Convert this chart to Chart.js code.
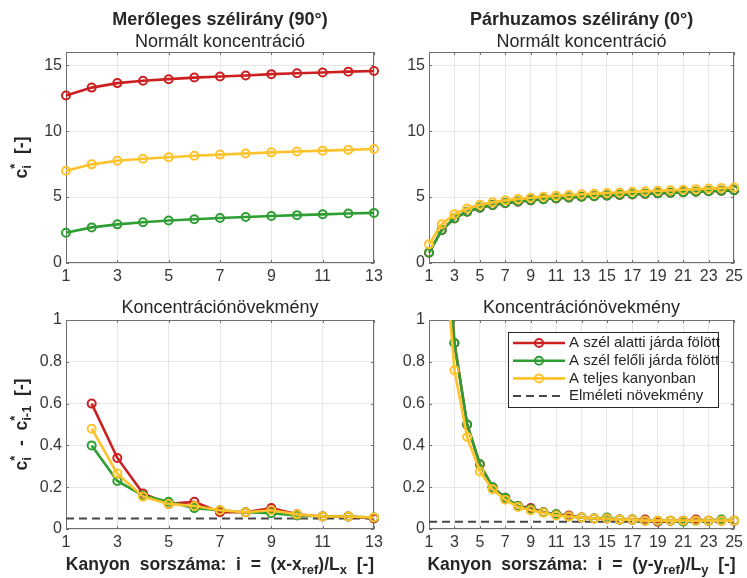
<!DOCTYPE html>
<html>
<head>
<meta charset="utf-8">
<script src="https://cdn.jsdelivr.net/npm/chart.js@4"></script>
<style>
  body { margin: 0; background: #fff; }
  #wrap { position: relative; width: 747px; height: 578px; }
  canvas { position: absolute; }
</style>
</head>
<body>
<div id="wrap">
  <canvas id="c1" width="390" height="290" style="left:0;top:0"></canvas>
  <canvas id="c2" width="357" height="290" style="left:390px;top:0"></canvas>
  <canvas id="c3" width="390" height="288" style="left:0;top:290px"></canvas>
  <canvas id="c4" width="357" height="288" style="left:390px;top:290px"></canvas>
</div>
<script>
// canyon index
const xs13 = [1, 2, 3, 4, 5, 6, 7, 8, 9, 10, 11, 12, 13];
const xs25 = [1, 2, 3, 4, 5, 6, 7, 8, 9, 10, 11, 12, 13, 14, 15, 16, 17, 18, 19, 20, 21, 22, 23, 24, 25];
const inc13 = xs13.slice(1);
const inc25 = xs25.slice(1);

// perpendicular wind (90°), normalised concentration
const perpRed = [12.7, 13.3, 13.64, 13.82, 13.94, 14.06, 14.14, 14.22, 14.32, 14.39, 14.45, 14.51, 14.56];
const perpGreen = [2.3, 2.7, 2.93, 3.09, 3.22, 3.32, 3.41, 3.49, 3.56, 3.63, 3.69, 3.75, 3.8];
const perpYellow = [7.0, 7.48, 7.75, 7.9, 8.02, 8.13, 8.22, 8.3, 8.39, 8.46, 8.52, 8.58, 8.64];

// parallel wind (0°), normalised concentration
const parRed = [0.78, 2.49, 3.38, 3.88, 4.19, 4.39, 4.54, 4.65, 4.75, 4.83, 4.9, 4.96, 5.02, 5.07, 5.11, 5.16, 5.2, 5.24, 5.28, 5.32, 5.36, 5.4, 5.44, 5.47, 5.51];
const parGreen = [0.78, 2.5, 3.39, 3.89, 4.2, 4.4, 4.55, 4.66, 4.76, 4.84, 4.91, 4.97, 5.02, 5.07, 5.12, 5.17, 5.21, 5.25, 5.29, 5.33, 5.36, 5.4, 5.44, 5.48, 5.52];
const parYellow = [1.42, 2.94, 3.7, 4.14, 4.42, 4.61, 4.75, 4.86, 4.95, 5.03, 5.1, 5.16, 5.21, 5.26, 5.31, 5.35, 5.4, 5.44, 5.48, 5.52, 5.56, 5.6, 5.64, 5.68, 5.72];

// increments c*_i - c*_(i-1)
const perpIncRed = [0.6, 0.34, 0.17, 0.12, 0.13, 0.08, 0.08, 0.1, 0.07, 0.06, 0.06, 0.05];
const perpIncGreen = [0.4, 0.23, 0.16, 0.13, 0.1, 0.09, 0.08, 0.075, 0.065, 0.06, 0.06, 0.055];
const perpIncYellow = [0.48, 0.265, 0.155, 0.12, 0.11, 0.09, 0.08, 0.09, 0.07, 0.06, 0.06, 0.055];
const parIncRed = [1.71, 0.89, 0.5, 0.31, 0.2, 0.15, 0.11, 0.1, 0.08, 0.07, 0.065, 0.055, 0.05, 0.05, 0.045, 0.045, 0.045, 0.035, 0.04, 0.04, 0.045, 0.04, 0.04, 0.04];
const parIncGreen = [1.72, 0.89, 0.5, 0.31, 0.2, 0.15, 0.11, 0.095, 0.08, 0.07, 0.06, 0.055, 0.05, 0.055, 0.045, 0.045, 0.04, 0.04, 0.04, 0.035, 0.04, 0.04, 0.045, 0.04];
const parIncYellow = [1.52, 0.76, 0.44, 0.275, 0.19, 0.14, 0.105, 0.09, 0.078, 0.065, 0.06, 0.055, 0.05, 0.05, 0.045, 0.045, 0.04, 0.04, 0.04, 0.04, 0.04, 0.04, 0.04, 0.04];
const perpTheory = 0.05;
const parTheory = 0.035;

const labels = ["A szél alatti járda fölött", "A szél felőli járda fölött", "A teljes kanyonban", "Elméleti növekmény"];

const ticksC = [0, 5, 10, 15];
const ticksInc = [0, 0.2, 0.4, 0.6, 0.8, 1];
const ticks13 = [1, 3, 5, 7, 9, 11, 13];
const ticks25 = [1, 3, 5, 7, 9, 11, 13, 15, 17, 19, 21, 23, 25];

const RED = "#cc1f1f";
const GREEN = "#2e9e33";
const YELLOW = "#ffc22a";
const DASH = "#474747";
const TXT = "#262626";
const FONT = "'Liberation Sans', Arial, sans-serif";

Chart.defaults.font.family = FONT;

function series(xs, ys, color, order, clip) {
  return {
    data: ys.map((v, i) => ({ x: xs[i], y: v })),
    borderColor: color,
    pointBorderColor: color,
    pointBackgroundColor: "rgba(255,255,255,0)",
    borderWidth: 2.6,
    pointRadius: 4,
    pointBorderWidth: 2,
    order: order,
    clip: clip,
  };
}

function theory(xMax, val) {
  return {
    data: [{ x: 1, y: val }, { x: xMax, y: val }],
    borderColor: DASH,
    borderWidth: 2,
    borderDash: [8, 5],
    pointRadius: 0,
    order: 10,
  };
}

function drawRich(ctx, parts, cx, cy, size) {
  const big = "bold " + size + "px " + FONT;
  const small = "bold " + Math.round(size * 0.72) + "px " + FONT;
  let w = 0;
  const items = parts.map((p) => {
    let pw;
    if (typeof p === "string") {
      ctx.font = big;
      pw = ctx.measureText(p).width;
    } else {
      ctx.font = small;
      pw = Math.max(ctx.measureText(p.sup || "").width, ctx.measureText(p.sub || "").width);
    }
    w += pw;
    return { p, pw };
  });
  let x = cx - w / 2;
  ctx.textAlign = "left";
  ctx.textBaseline = "middle";
  items.forEach(({ p, pw }) => {
    if (typeof p === "string") {
      ctx.font = big;
      ctx.fillText(p, x, cy);
    } else {
      ctx.font = small;
      if (p.sup) ctx.fillText(p.sup, x, cy - size * 0.38);
      if (p.sub) ctx.fillText(p.sub, x, cy + size * 0.32);
    }
    x += pw;
  });
}

function framePlugin(cfg) {
  return {
    id: "frame",
    beforeDatasetsDraw(chart) {
      const { ctx, chartArea: a, scales } = chart;
      ctx.save();
      ctx.strokeStyle = "#6f6f6f";
      ctx.lineWidth = 1;
      ctx.beginPath();
      scales.x.ticks.forEach((t) => {
        const px = Math.round(scales.x.getPixelForValue(t.value)) + 0.5;
        ctx.moveTo(px, a.bottom); ctx.lineTo(px, a.bottom - 3);
        ctx.moveTo(px, a.top); ctx.lineTo(px, a.top + 3);
      });
      scales.y.ticks.forEach((t) => {
        const py = Math.round(scales.y.getPixelForValue(t.value)) + 0.5;
        ctx.moveTo(a.left, py); ctx.lineTo(a.left + 3, py);
        ctx.moveTo(a.right, py); ctx.lineTo(a.right - 3, py);
      });
      ctx.stroke();
      ctx.strokeRect(Math.round(a.left) + 0.5, Math.round(a.top) + 0.5, Math.round(a.width) - 1, Math.round(a.height) - 1);
      ctx.restore();
    },
    afterDraw(chart) {
      const { ctx, chartArea: a } = chart;
      const cx = (a.left + a.right) / 2;
      ctx.save();
      ctx.fillStyle = TXT;
      ctx.textAlign = "center";
      ctx.textBaseline = "middle";
      if (cfg.title) {
        ctx.font = "bold 18px " + FONT;
        ctx.fillText(cfg.title, cx, a.top - 32);
      }
      ctx.font = "18px " + FONT;
      ctx.fillText(cfg.subtitle, cx, a.top - cfg.subGap);
      if (cfg.xLabel) drawRich(ctx, cfg.xLabel, cx, a.bottom + 36, 17.5);
      if (cfg.yLabel) {
        ctx.translate(22, (a.top + a.bottom) / 2);
        ctx.rotate(-Math.PI / 2);
        drawRich(ctx, cfg.yLabel, 0, 0, 17.5);
      }
      ctx.restore();
      if (cfg.legend) drawLegend(chart, cfg.legend);
    },
  };
}

function drawLegend(chart, box) {
  const ctx = chart.ctx;
  const sets = chart.data.datasets;
  ctx.save();
  ctx.fillStyle = "#fff";
  ctx.fillRect(box.x, box.y, box.w, box.h);
  ctx.strokeStyle = TXT;
  ctx.lineWidth = 1;
  ctx.strokeRect(box.x + 0.5, box.y + 0.5, box.w, box.h);
  ctx.font = "15px " + FONT;
  ctx.textAlign = "left";
  ctx.textBaseline = "middle";
  labels.forEach((lab, i) => {
    const ds = sets[i];
    const y = box.y + 11 + i * 17.7;
    const x0 = box.x + 5, x1 = box.x + 57;
    ctx.strokeStyle = ds.borderColor;
    ctx.lineWidth = ds.borderWidth;
    ctx.setLineDash(ds.borderDash || []);
    ctx.beginPath();
    ctx.moveTo(x0, y); ctx.lineTo(x1, y);
    ctx.stroke();
    ctx.setLineDash([]);
    if (ds.pointRadius) {
      ctx.lineWidth = ds.pointBorderWidth;
      ctx.beginPath();
      ctx.arc((x0 + x1) / 2, y, ds.pointRadius, 0, Math.PI * 2);
      ctx.stroke();
    }
    ctx.fillStyle = TXT;
    ctx.fillText(lab, x1 + 4, y);
  });
  ctx.restore();
}

function panel(id, cfg) {
  new Chart(document.getElementById(id), {
    type: "line",
    data: { datasets: cfg.datasets },
    options: {
      responsive: false,
      animation: false,
      devicePixelRatio: 1,
      layout: { padding: cfg.pad },
      plugins: { legend: { display: false }, tooltip: { enabled: false } },
      scales: {
        x: {
          type: "linear",
          min: 1,
          max: cfg.xTicks[cfg.xTicks.length - 1],
          afterFit: (s) => { s.height = cfg.xH; },
          afterBuildTicks: (s) => { s.ticks = cfg.xTicks.map((v) => ({ value: v })); },
          grid: { color: "#e6e6e6", drawTicks: false },
          border: { display: false },
          ticks: { color: "#363636", font: { size: 16 }, padding: 4, maxRotation: 0, autoSkip: false },
        },
        y: {
          type: "linear",
          min: 0,
          max: cfg.yMax,
          afterFit: (s) => { s.width = cfg.yW; },
          afterBuildTicks: (s) => { s.ticks = cfg.yTicks.map((v) => ({ value: v })); },
          grid: { color: "#e6e6e6", drawTicks: false },
          border: { display: false },
          ticks: { color: "#363636", font: { size: 16 }, padding: 4, callback: (v) => String(v) },
        },
      },
    },
    plugins: [framePlugin(cfg)],
  });
}

const clipAll = 8;
const clipTop = { left: 8, right: 8, top: 0, bottom: 8 };

panel("c1", {
  pad: { left: 0, right: 16, top: 52, bottom: 0 }, yW: 66, xH: 27,
  xTicks: ticks13, yTicks: ticksC, yMax: 16,
  title: "Merőleges szélirány (90°)", subtitle: "Normált koncentráció", subGap: 10,
  yLabel: ["c", { sup: "*", sub: "i" }, "  [-]"],
  datasets: [
    series(xs13, perpRed, RED, 3, clipAll),
    series(xs13, perpGreen, GREEN, 2, clipAll),
    series(xs13, perpYellow, YELLOW, 1, clipAll),
  ],
});

panel("c2", {
  pad: { left: 0, right: 9, top: 52, bottom: 0 }, yW: 39, xH: 27,
  xTicks: ticks25, yTicks: ticksC, yMax: 16,
  title: "Párhuzamos szélirány (0°)", subtitle: "Normált koncentráció", subGap: 10,
  datasets: [
    series(xs25, parRed, RED, 3, clipAll),
    series(xs25, parGreen, GREEN, 2, clipAll),
    series(xs25, parYellow, YELLOW, 1, clipAll),
  ],
});

panel("c3", {
  pad: { left: 0, right: 16, top: 30, bottom: 0 }, yW: 66, xH: 49,
  xTicks: ticks13, yTicks: ticksInc, yMax: 1,
  subtitle: "Koncentrációnövekmény", subGap: 12,
  xLabel: ["Kanyon  sorszáma:  i  =  (x-x", { sub: "ref" }, ")/L", { sub: "x" }, "  [-]"],
  yLabel: ["c", { sup: "*", sub: "i" }, "  -  c", { sup: "*", sub: "i-1" }, "  [-]"],
  datasets: [
    series(inc13, perpIncRed, RED, 3, clipTop),
    series(inc13, perpIncGreen, GREEN, 2, clipTop),
    series(inc13, perpIncYellow, YELLOW, 1, clipTop),
    theory(13, perpTheory),
  ],
});

panel("c4", {
  pad: { left: 0, right: 9, top: 30, bottom: 0 }, yW: 39, xH: 49,
  xTicks: ticks25, yTicks: ticksInc, yMax: 1,
  subtitle: "Koncentrációnövekmény", subGap: 12,
  xLabel: ["Kanyon  sorszáma:  i  =  (y-y", { sub: "ref" }, ")/L", { sub: "y" }, "  [-]"],
  legend: { x: 118, y: 42, w: 210, h: 75 },
  datasets: [
    series(inc25, parIncRed, RED, 3, clipTop),
    series(inc25, parIncGreen, GREEN, 2, clipTop),
    series(inc25, parIncYellow, YELLOW, 1, clipTop),
    theory(25, parTheory),
  ],
});
</script>
</body>
</html>
